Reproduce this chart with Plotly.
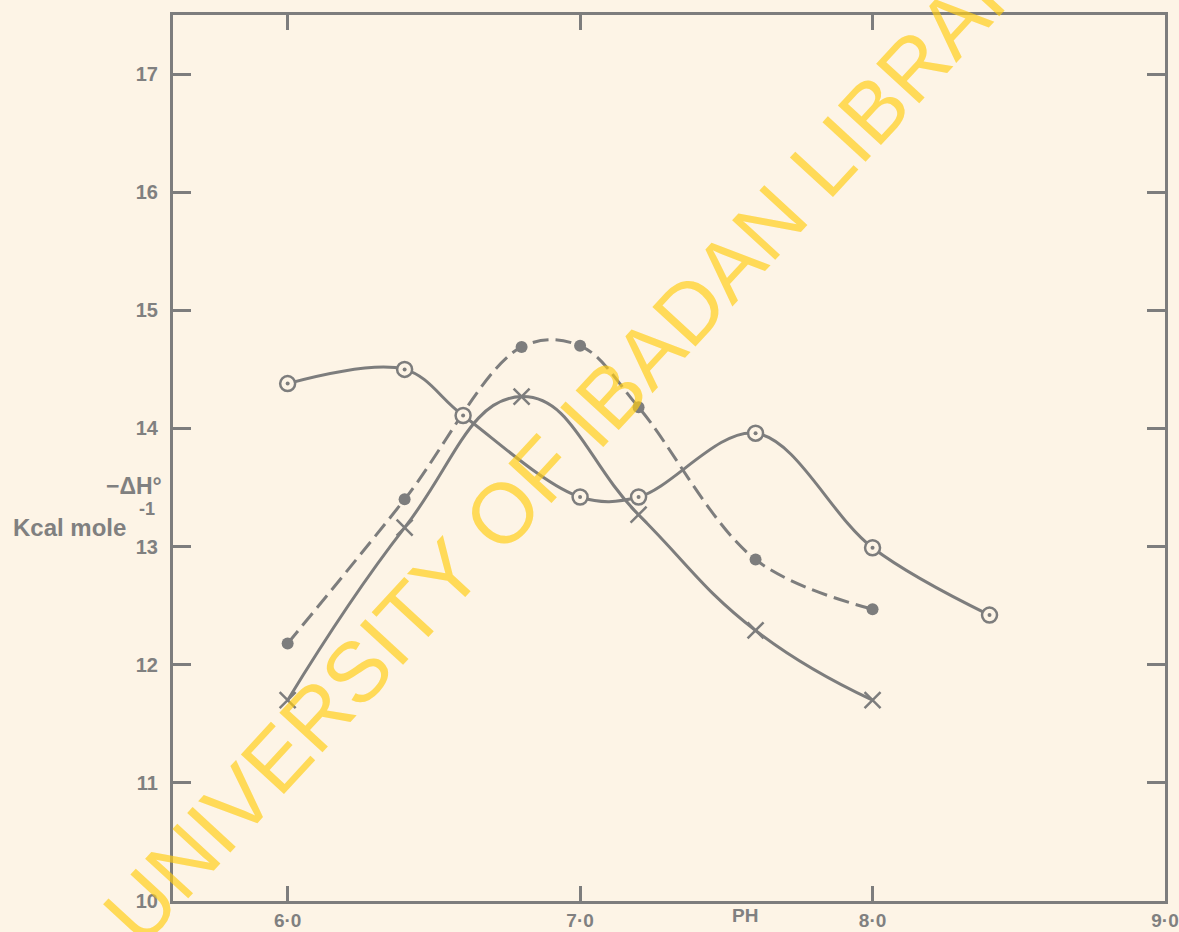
import plotly.graph_objects as go

# pH values and -ΔH° (kcal/mole)
ph_circle = [6.0, 6.4, 6.6, 7.0, 7.2, 7.6, 8.0, 8.4]
dh_circle = [14.38, 14.50, 14.11, 13.42, 13.42, 13.96, 12.99, 12.42]

ph_dot = [6.0, 6.4, 6.8, 7.0, 7.2, 7.6, 8.0]
dh_dot = [12.18, 13.40, 14.69, 14.70, 14.18, 12.89, 12.47]

ph_cross = [6.0, 6.4, 6.8, 7.2, 7.6, 8.0]
dh_cross = [11.70, 13.16, 14.27, 13.27, 12.29, 11.70]

x_tickvals = [6.0, 7.0, 8.0, 9.0]
x_ticktext = ["6·0", "7·0", "8·0", "9·0"]
y_tickvals = [10, 11, 12, 13, 14, 15, 16, 17]
y_ticktext = ["10", "11", "12", "13", "14", "15", "16", "17"]

GRAY = "#7d7d7d"
BG = "#fdf4e6"
XFONT = dict(family="Liberation Sans", size=19, color="#808080", weight="bold")
YFONT = dict(family="Liberation Sans", size=20, color="#808080", weight="bold")

fig = go.Figure()

# dashed series with filled dots
fig.add_trace(go.Scatter(
    x=ph_dot, y=dh_dot, mode="lines+markers",
    line=dict(color=GRAY, width=3, dash="16px,7px", shape="spline", smoothing=1.0),
    marker=dict(symbol="circle", size=12, color=GRAY),
    showlegend=False))

# solid series with crosses
fig.add_trace(go.Scatter(
    x=ph_cross, y=dh_cross, mode="lines+markers",
    line=dict(color=GRAY, width=3, shape="spline", smoothing=1.3),
    marker=dict(symbol="x-thin-open", size=16, color=GRAY, line=dict(color=GRAY, width=2.5)),
    showlegend=False))

# solid series with dotted circles
fig.add_trace(go.Scatter(
    x=ph_circle, y=dh_circle, mode="lines+markers",
    line=dict(color=GRAY, width=3, shape="spline", smoothing=1.0),
    marker=dict(symbol="circle", size=15, color=BG, line=dict(color=GRAY, width=2.5)),
    showlegend=False))
fig.add_trace(go.Scatter(
    x=ph_circle, y=dh_circle, mode="markers",
    marker=dict(symbol="circle", size=4, color=GRAY),
    showlegend=False, hoverinfo="skip"))

axis_common = dict(
    showline=True, linecolor=GRAY, linewidth=3, mirror="ticks",
    ticks="inside", tickwidth=2.5, tickcolor=GRAY,
    showgrid=False, zeroline=False, automargin=False,
)

fig.update_xaxes(range=[5.608, 9.0], tickvals=x_tickvals, ticktext=x_ticktext,
                 ticklen=15, tickfont=XFONT, **axis_common)
fig.update_yaxes(range=[10.0, 17.5], tickvals=y_tickvals, ticktext=y_ticktext,
                 ticklen=18, ticklabelstandoff=8, tickfont=YFONT, **axis_common)

fig.add_annotation(xref="paper", yref="paper", x=-0.009, y=0.468, text="−ΔH°",
                   showarrow=False, xanchor="right", yanchor="middle",
                   font=dict(family="Liberation Sans", size=23, color="#808080", weight="bold"))
fig.add_annotation(xref="paper", yref="paper", x=-0.1636, y=0.422,
                   text="Kcal mole",
                   showarrow=False, xanchor="left", yanchor="middle",
                   font=dict(family="Liberation Sans", size=24, color="#808080", weight="bold"))
fig.add_annotation(xref="paper", yref="paper", x=-0.026, y=0.443,
                   text="-1",
                   showarrow=False, xanchor="center", yanchor="middle",
                   font=dict(family="Liberation Sans", size=18, color="#808080", weight="bold"))
fig.add_annotation(xref="x", yref="paper", x=7.564, y=-0.016, text="PH",
                   showarrow=False, xanchor="center", yanchor="middle", font=XFONT)

# watermark
fig.add_annotation(xref="paper", yref="paper", x=0.416, y=0.540,
                   text="UNIVERSITY OF IBADAN LIBRARY", textangle=-47.4,
                   showarrow=False, xanchor="center", yanchor="middle",
                   font=dict(family="Liberation Sans", size=85, color="rgba(255,205,20,0.68)"))

fig.update_layout(
    width=1179, height=932,
    margin=dict(l=173, r=14, t=15, b=31),
    paper_bgcolor=BG, plot_bgcolor=BG,
    showlegend=False,
)

fig.write_html("out.html")
